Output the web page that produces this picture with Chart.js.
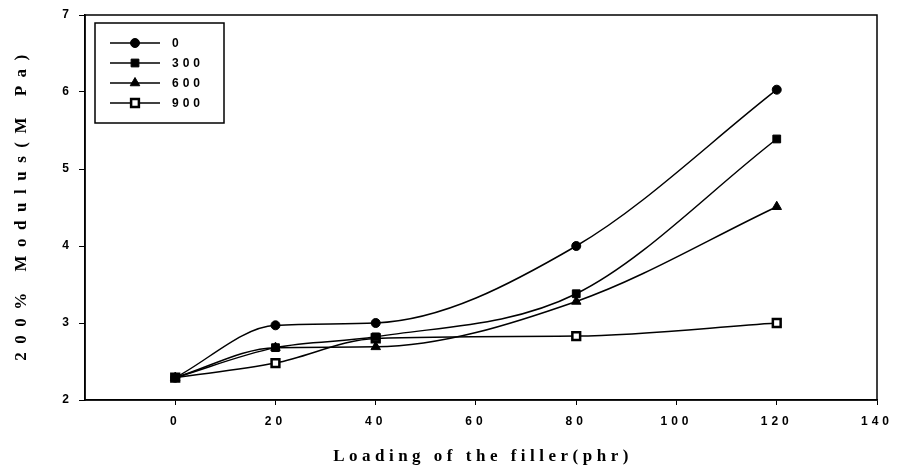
<!DOCTYPE html>
<html>
<head>
<meta charset="utf-8">
<script src="https://cdn.jsdelivr.net/npm/chart.js@4.4.1/dist/chart.umd.min.js"></script>
<style>
  html, body { margin: 0; padding: 0; background: #fff; }
  #wrap { width: 899px; height: 472px; }
</style>
</head>
<body>
<div id="wrap"><canvas id="chart" width="899" height="472"></canvas></div>
<script>
// filler loading (phr)
const loading = [0, 20, 40, 80, 120];
// 200% modulus (MPa) per series
const mod0 = [2.29, 2.97, 3.0, 4.0, 6.03];
const mod300 = [2.29, 2.68, 2.82, 3.38, 5.39];
const mod600 = [2.29, 2.68, 2.69, 3.28, 4.51];
const mod900 = [2.29, 2.48, 2.8, 2.83, 3.0];
const seriesNames = ['0', '300', '600', '900'];
const xTicks = [0, 20, 40, 60, 80, 100, 120, 140];
const yTicks = [2, 3, 4, 5, 6, 7];
const xTitle = 'Loading of the filler(phr)';
const yTitle = '200% Modulus(M Pa)';

const pts = vals => loading.map((x, i) => ({x: x, y: vals[i]}));

function makeSet(label, vals, style, radius, fill, bw) {
    return {
        label: label,
        data: pts(vals),
        borderColor: '#000',
        borderWidth: 1.5,
        cubicInterpolationMode: 'monotone',
        pointStyle: style,
        pointRadius: radius,
        pointBackgroundColor: fill,
        pointBorderColor: '#000',
        pointBorderWidth: bw
    };
}

const spacingPlugin = {
    id: 'spacing',
    beforeDraw(chart) {
        chart.ctx.letterSpacing = '4px';
    }
};

// frame, axis titles, boxed legend
const decorPlugin = {
    id: 'decor',
    afterDraw(chart) {
        const {ctx, chartArea: {left, top, right, bottom}} = chart;
        ctx.save();
        ctx.strokeStyle = '#000';
        ctx.lineWidth = 1.5;
        ctx.strokeRect(left, top, right - left, bottom - top);

        ctx.fillStyle = '#000';
        ctx.font = 'bold 17px "Liberation Serif"';
        ctx.textAlign = 'center';
        ctx.textBaseline = 'middle';
        ctx.letterSpacing = '4.5px';
        ctx.fillText(xTitle, (left + right) / 2 + 2, 457);

        ctx.save();
        ctx.translate(22, (top + bottom) / 2);
        ctx.rotate(-Math.PI / 2);
        ctx.letterSpacing = '8.5px';
        ctx.fillText(yTitle, 4, 0);
        ctx.restore();

        ctx.lineWidth = 1.5;
        ctx.strokeRect(95, 23, 129, 100);
        chart.data.datasets.forEach((ds, i) => {
            const y = 43 + i * 20;
            ctx.lineWidth = 1.5;
            ctx.beginPath();
            ctx.moveTo(110, y);
            ctx.lineTo(160, y);
            ctx.stroke();
            ctx.fillStyle = ds.pointBackgroundColor;
            ctx.lineWidth = ds.pointBorderWidth;
            Chart.helpers.drawPoint(ctx, {
                pointStyle: ds.pointStyle,
                radius: ds.pointRadius,
                rotation: 0,
                borderWidth: ds.pointBorderWidth
            }, 135, y);
            ctx.fillStyle = '#000';
            ctx.font = 'bold 12px "Liberation Sans"';
            ctx.letterSpacing = '4px';
            ctx.textAlign = 'left';
            ctx.textBaseline = 'middle';
            ctx.fillText(ds.label, 172, y + 1);
        });
        ctx.restore();
    }
};

const tickFont = {family: '"Liberation Sans"', size: 12, weight: 'bold'};

new Chart(document.getElementById('chart'), {
    type: 'line',
    data: {
        datasets: [
            makeSet(seriesNames[0], mod0, 'circle', 4.5, '#000', 1),
            makeSet(seriesNames[1], mod300, 'rect', 5.5, '#000', 1),
            makeSet(seriesNames[2], mod600, 'triangle', 5.5, '#000', 1),
            makeSet(seriesNames[3], mod900, 'rect', 5.5, '#fff', 2.5)
        ]
    },
    options: {
        responsive: false,
        animation: false,
        layout: {padding: {top: 15, right: 22, left: 0, bottom: 0}},
        plugins: {
            legend: {display: false},
            tooltip: {enabled: false}
        },
        scales: {
            x: {
                type: 'linear',
                min: -18,
                max: 140,
                afterBuildTicks: axis => { axis.ticks = xTicks.map(v => ({value: v})); },
                afterFit: scale => { scale.height = 72; },
                grid: {display: true, drawOnChartArea: false, tickLength: 5, color: '#000', lineWidth: 1},
                border: {display: true, color: '#000', width: 1.5},
                ticks: {color: '#000', font: tickFont, padding: 9, maxRotation: 0}
            },
            y: {
                min: 2,
                max: 7,
                afterBuildTicks: axis => { axis.ticks = yTicks.map(v => ({value: v})); },
                afterFit: scale => { scale.width = 85; },
                grid: {display: true, drawOnChartArea: false, tickLength: 6, color: '#000', lineWidth: 1},
                border: {display: true, color: '#000', width: 1.5},
                ticks: {color: '#000', font: tickFont, padding: 6}
            }
        }
    },
    plugins: [spacingPlugin, decorPlugin]
});
</script>
</body>
</html>
